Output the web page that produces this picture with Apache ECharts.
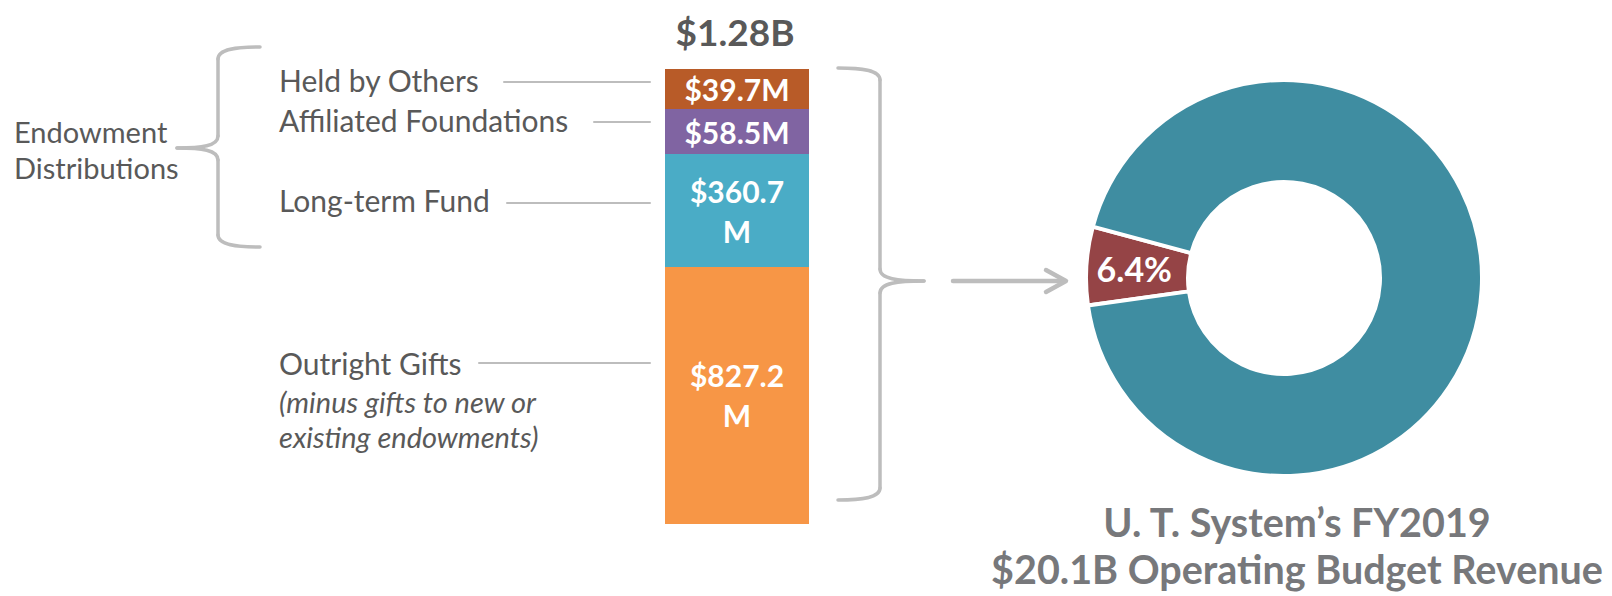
<!DOCTYPE html>
<html>
<head>
<meta charset="utf-8">
<title>Endowment distributions and gifts</title>
<script src="https://cdn.jsdelivr.net/npm/echarts@6/dist/echarts.min.js"></script>
<style>
  html, body { margin: 0; padding: 0; background: #fff; }
  #chart { width: 1612px; height: 596px; }
</style>
</head>
<body>
<div id="chart"></div>
<script>
// stacked bar, listed top to bottom
const categories = ['Held by Others', 'Affiliated Foundations', 'Long-term Fund', 'Outright Gifts']
const amounts = [39.7, 58.5, 360.7, 827.2]   // $M, printed in the segments
// the slide does not draw the segments to scale: share of the bar each one takes there
const drawnShare = [8.8, 9.9, 24.8, 56.5]
const barTotal = '$1.28B'
const groupLines = ['Endowment', 'Distributions']
const noteLines = ['(minus gifts to new or', 'existing endowments)']

// donut: part of the FY2019 operating budget revenue
const budgetParts = ['Gifts and endowment distributions', 'Other revenue']
const budgetShare = [6.4, 93.6]
const titleLines = ['U. T. System’s FY2019', '$20.1B Operating Budget Revenue']

const barColors = ['#b85b28', '#8064a2', '#4aacc6', '#f79646']
const pieColors = ['#954446', '#3f8da1']
const textGray = '#595959'
const lineGray = '#bdbdbd'
const font = 'Lato'

const chart = echarts.init(document.getElementById('chart'), null, { renderer: 'svg' })

// one series per segment, bottom one first so the stack builds upwards
const barSeries = categories.map((name, i) => ({
  name,
  type: 'bar',
  stack: 'total',
  barWidth: '100%',
  data: [drawnShare[i]],
  itemStyle: { color: barColors[i] },
  label: {
    show: true,
    position: 'inside',
    // the long amounts wrap in the narrow bar on the slide
    formatter: () => amounts[i] >= 100 ? '$' + amounts[i] + '\nM' : '$' + amounts[i] + 'M',
    color: '#fff',
    fontFamily: font,
    fontWeight: 'bold',
    fontSize: 30,
    lineHeight: 40
  }
})).reverse()

function txt(text, x, y, opt) {
  return {
    type: 'text',
    x, y,
    silent: true,
    style: Object.assign({
      text,
      fill: textGray,
      fontFamily: font,
      fontSize: 30,
      align: 'left',
      verticalAlign: 'middle',
      textAlign: 'left',
      textVerticalAlign: 'middle'
    }, opt || {})
  }
}

const lineStyle = w => ({ stroke: lineGray, lineWidth: w, fill: null, lineCap: 'round', lineJoin: 'round' })

function line(points, width) {
  return { type: 'polyline', silent: true, shape: { points }, style: lineStyle(width || 2) }
}

function curve(x1, y1, cpx1, cpy1, cpx2, cpy2, x2, y2) {
  return {
    type: 'bezierCurve', silent: true,
    shape: { x1, y1, cpx1, cpy1, cpx2, cpy2, x2, y2 },
    style: lineStyle(3.5)
  }
}

// curly brace: ends at endX, spine at spineX, point at tipX
function brace(endX, spineX, tipX, top, mid, bottom) {
  const r = 12
  const e = endX + (spineX - endX) * 0.55
  const t = spineX + (tipX - spineX) * 0.4
  return {
    type: 'group',
    children: [
      curve(endX, top, e, top, spineX, top + 2, spineX, top + r),
      line([[spineX, top + r], [spineX, mid - r]], 3.5),
      curve(spineX, mid - r, spineX, mid - 2, t, mid, tipX, mid),
      curve(tipX, mid, t, mid, spineX, mid + 2, spineX, mid + r),
      line([[spineX, mid + r], [spineX, bottom - r]], 3.5),
      curve(spineX, bottom - r, spineX, bottom - 2, e, bottom, endX, bottom)
    ]
  }
}

// left hand labels and their leader lines
const labelY = [80, 120, 200, 363]
const leaderY = [82, 122, 203, 363]
const leaderStart = [504, 594, 507, 479]
const textGraphics = []
categories.forEach((c, i) => {
  textGraphics.push(txt(c, 279, labelY[i]))
  textGraphics.push(line([[leaderStart[i], leaderY[i]], [650, leaderY[i]]], 2))
})
// each line its own text, spaced so the boxes stay apart
groupLines.forEach((s, i) => textGraphics.push(txt(s, 14, 131 + i * 36, { fontSize: 29 })))
noteLines.forEach((s, i) => textGraphics.push(txt(s, 279, 401 + i * 35, { fontStyle: 'italic', fontSize: 29 })))
titleLines.forEach((s, i) => textGraphics.push(txt(s, 1297, 521 + i * 47, {
  fill: '#77787b', fontSize: 39.5, fontWeight: 'bold', align: 'center', textAlign: 'center'
})))

const option = {
  animation: false,
  grid: { left: 665, top: 69, width: 144, height: 455 },
  xAxis: { type: 'category', data: ['FY2019'], show: false },
  yAxis: { type: 'value', min: 0, max: 100, show: false },
  series: [
    ...barSeries,
    {
      type: 'pie',
      center: [1284, 278],
      radius: [96, 198],
      startAngle: 188,
      clockwise: true,
      silent: true,
      itemStyle: { borderColor: '#fff', borderWidth: 4 },
      labelLine: { show: false },
      label: {
        position: 'inside',
        formatter: '{c}%',
        color: '#fff',
        fontFamily: font,
        fontWeight: 'bold',
        fontSize: 34
      },
      data: budgetParts.map((name, i) => ({
        name,
        value: budgetShare[i],
        itemStyle: { color: pieColors[i] },
        label: { show: i === 0 }
      }))
    }
  ],
  graphic: [
    txt(barTotal, 735, 31, { fontSize: 37, fontWeight: 'bold', align: 'center', textAlign: 'center' }),
    ...textGraphics,
    brace(260, 218, 177, 47, 148, 247),
    brace(838, 880, 924, 68, 281, 500),
    // arrow to the donut
    line([[953, 281], [1064, 281]], 4.5),
    line([[1046, 270], [1066, 281], [1046, 292]], 4.5)
  ]
}

chart.setOption(option)
</script>
</body>
</html>
